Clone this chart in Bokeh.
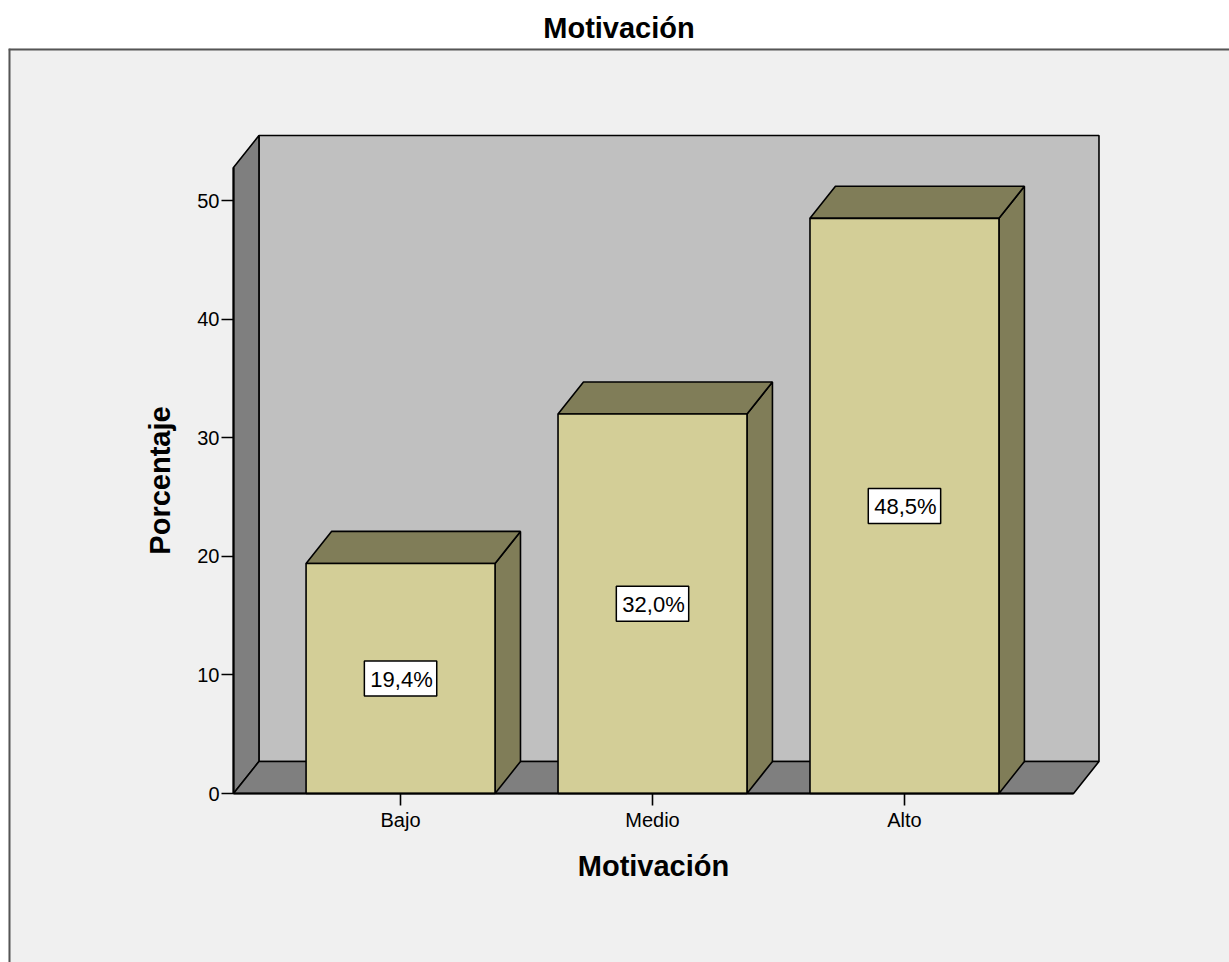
from bokeh.plotting import figure
from bokeh.models import ColumnDataSource, Range1d, FixedTicker
from bokeh.core.properties import value
from bokeh.embed import file_html
from bokeh.resources import INLINE

# Chart data
categories = ["Bajo", "Medio", "Alto"]
percentages = [19.4, 32.0, 48.5]
value_labels = ["19,4%", "32,0%", "48,5%"]
y_ticks = [0, 10, 20, 30, 40, 50]

# 3D box geometry (data units)
BAR_HALF = 0.375      # half bar width along the category axis
DEPTH_X = 0.101       # oblique depth offset, x
DEPTH_Y = 2.70        # oblique depth offset, y
X_LEFT = -0.663       # front-left corner of the floor
X_RIGHT = 2.671       # front-right corner of the floor
WALL_TOP = 52.78      # height of the front edge of the left wall

# Extent of the grey chart panel (data units)
PANEL_X = (-1.556, 3.29)
PANEL_Y = (-14.25, 62.82)

FONT = "Liberation Sans"

x_pos = list(range(len(categories)))

p = figure(
    width=1229, height=962,
    x_range=Range1d(*PANEL_X),
    y_range=Range1d(*PANEL_Y),
    output_backend="svg", toolbar_location=None,
    min_border_left=8, min_border_right=0,
    min_border_top=48, min_border_bottom=0,
    title="Motivación",
)
p.background_fill_color = "#f0f0f0"
p.border_fill_color = "white"
p.outline_line_color = None
p.grid.visible = False

# Title
p.title.text_font = FONT
p.title.text_font_size = "29px"
p.title.text_font_style = "bold"
p.title.align = "center"
p.title.text_color = "black"

# Panel frame line (left and top edges)
p.segment(x0=[PANEL_X[0], PANEL_X[0]], y0=[PANEL_Y[0], PANEL_Y[1]],
          x1=[PANEL_X[0], PANEL_X[1]], y1=[PANEL_Y[1], PANEL_Y[1]],
          line_color="#555555", line_width=4)

edge = dict(line_color="black", line_width=1.6)

# Back wall, left wall and floor
p.quad(left=X_LEFT + DEPTH_X, right=X_RIGHT + DEPTH_X,
       bottom=DEPTH_Y, top=WALL_TOP + DEPTH_Y,
       fill_color="#c0c0c0", **edge)
p.patch([X_LEFT, X_LEFT, X_LEFT + DEPTH_X, X_LEFT + DEPTH_X],
        [0, WALL_TOP, WALL_TOP + DEPTH_Y, DEPTH_Y],
        fill_color="#7f7f7f", **edge)
p.patch([X_LEFT, X_RIGHT, X_RIGHT + DEPTH_X, X_LEFT + DEPTH_X],
        [0, 0, DEPTH_Y, DEPTH_Y],
        fill_color="#7f7f7f", **edge)

# Bars: side face, top face, front face
side_xs, side_ys, top_xs, top_ys = [], [], [], []
for c, v in zip(x_pos, percentages):
    r = c + BAR_HALF
    l = c - BAR_HALF
    side_xs.append([r, r + DEPTH_X, r + DEPTH_X, r])
    side_ys.append([0, DEPTH_Y, v + DEPTH_Y, v])
    top_xs.append([l, r, r + DEPTH_X, l + DEPTH_X])
    top_ys.append([v, v, v + DEPTH_Y, v + DEPTH_Y])

p.patches(side_xs, side_ys, fill_color="#807d58", **edge)
p.patches(top_xs, top_ys, fill_color="#807d58", **edge)

src = ColumnDataSource(dict(
    x=x_pos,
    left=[c - BAR_HALF for c in x_pos],
    right=[c + BAR_HALF for c in x_pos],
    top=percentages,
    mid=[v / 2 for v in percentages],
    label=value_labels,
))
p.quad(left="left", right="right", bottom=0, top="top", source=src,
       fill_color="#d3ce97", **edge)

# Value labels in boxed callouts
p.text(
    x="x", y="mid", text="label", source=src,
    text_align="center", text_baseline="middle",
    text_font=value(FONT), text_font_size="22px", text_color="black",
    background_fill_color="white", border_line_color="black",
    border_line_width=1.5, padding=(6, 4, 6, 4),
)

# Axes, pinned to the front edges of the box
ya = p.yaxis[0]
ya.fixed_location = X_LEFT
ya.ticker = FixedTicker(ticks=y_ticks)
ya.bounds = (0, WALL_TOP)
ya.axis_label = "Porcentaje"
xa = p.xaxis[0]
xa.fixed_location = 0
xa.ticker = FixedTicker(ticks=x_pos)
xa.major_label_overrides = {i: c for i, c in enumerate(categories)}
xa.bounds = (X_LEFT, X_RIGHT)
xa.axis_label = "Motivación"

for ax in (xa, ya):
    ax.axis_line_color = "black"
    ax.axis_line_width = 2
    ax.major_tick_line_color = "black"
    ax.major_tick_line_width = 1.6
    ax.major_tick_in = 0
    ax.major_tick_out = 12
    ax.minor_tick_line_color = None
    ax.major_label_text_font = FONT
    ax.major_label_text_font_size = "20px"
    ax.major_label_text_color = "black"
    ax.axis_label_text_font = FONT
    ax.axis_label_text_font_size = "29px"
    ax.axis_label_text_font_style = "bold"
    ax.axis_label_text_color = "black"

ya.major_label_standoff = 2
ya.axis_label_standoff = 18
xa.major_label_standoff = 3
xa.axis_label_standoff = 16

open("out.html", "w").write(file_html(p, INLINE))
